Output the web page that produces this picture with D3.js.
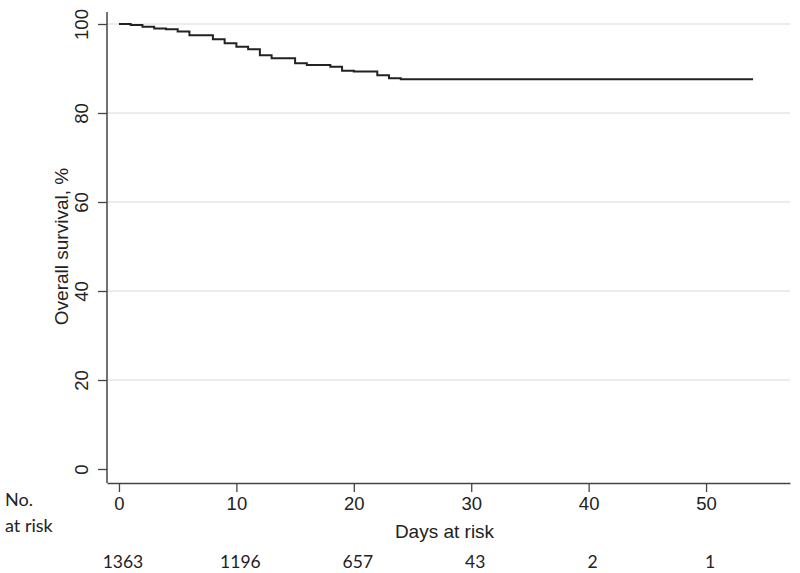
<!DOCTYPE html>
<html>
<head>
<meta charset="utf-8">
<script src="https://cdn.jsdelivr.net/npm/d3@7"></script>
<style>
  html, body { margin: 0; padding: 0; background: #fff; }
  svg { display: block; }
  text { fill: #222; }
</style>
</head>
<body>
<svg id="chart" width="800" height="573"></svg>
<script>
// Kaplan-Meier step data (day, survival %)
const stepDays =     [0,   1,     2,    3,    4,    5,    6,    8,    9,    10,   11,   12,   13,   15,   16,   18,   19,   20,   22,   23,   24,   54];
const stepSurvival = [100, 99.78, 99.4, 99.0, 98.8, 98.3, 97.5, 96.6, 95.7, 94.9, 94.3, 93.0, 92.3, 91.2, 90.8, 90.4, 89.5, 89.3, 88.5, 87.8, 87.6, 87.6];
const xTicks = [0, 10, 20, 30, 40, 50];
const yTicks = [0, 20, 40, 60, 80, 100];
const gridTicks = [20, 40, 60, 80, 100];
const riskDays = [0, 10, 20, 30, 40, 50];
const riskCounts = [1363, 1196, 657, 43, 2, 1];

const svg = d3.select("#chart");
const plotLeft = 107, plotRight = 790, plotBottom = 483, plotTop = 12;

const x = d3.scaleLinear().domain([-1.02, 57.15]).range([plotLeft, plotRight]);
const y = d3.scaleLinear().domain([0, 100]).range([469, 24]);

const tickFont = "'Liberation Sans', Arial, sans-serif";
const riskFont = "Lato, 'Open Sans', sans-serif";

// gridlines
svg.append("g").selectAll("line").data(gridTicks).join("line")
  .attr("x1", plotLeft).attr("x2", plotRight)
  .attr("y1", d => y(d)).attr("y2", d => y(d))
  .attr("stroke", "#e6e6e6").attr("stroke-width", 1.5);

// x axis
const xAxis = svg.append("g").attr("transform", `translate(0,${plotBottom})`)
  .call(d3.axisBottom(x).tickValues(xTicks).tickSize(9).tickPadding(5).tickSizeOuter(0));
xAxis.select(".domain").attr("stroke", "#444").attr("stroke-width", 1.5);
xAxis.selectAll(".tick line").attr("stroke", "#444").attr("stroke-width", 1.3);
xAxis.selectAll(".tick text").attr("font-family", tickFont).attr("font-size", 18.5).attr("fill", "#222");

// y axis
const yAxis = svg.append("g").attr("transform", `translate(${plotLeft},0)`)
  .call(d3.axisLeft(y).tickValues(yTicks).tickSize(9).tickSizeOuter(0));
yAxis.select(".domain").attr("d", `M0,${plotTop}V${plotBottom}`).attr("stroke", "#444").attr("stroke-width", 1.5);
yAxis.selectAll(".tick line").attr("stroke", "#444").attr("stroke-width", 1.3);
yAxis.selectAll(".tick text")
  .attr("font-family", tickFont).attr("font-size", 18.5).attr("fill", "#222")
  .attr("x", 0).attr("dy", 0)
  .attr("text-anchor", "middle")
  .attr("transform", "translate(-19,0) rotate(-90)");

// axis titles
svg.append("text")
  .attr("transform", `translate(68,${(y(0) + y(100)) / 2}) rotate(-90)`)
  .attr("text-anchor", "middle")
  .attr("font-family", tickFont).attr("font-size", 19)
  .text("Overall survival, %");

svg.append("text")
  .attr("x", (plotLeft + plotRight) / 2 - 4).attr("y", 538)
  .attr("text-anchor", "middle")
  .attr("font-family", tickFont).attr("font-size", 19)
  .text("Days at risk");

// survival step curve
const line = d3.line().x(d => x(d[0])).y(d => y(d[1])).curve(d3.curveStepAfter);
svg.append("path")
  .datum(stepDays.map((d, i) => [d, stepSurvival[i]]))
  .attr("d", line)
  .attr("fill", "none").attr("stroke", "#222").attr("stroke-width", 2);

// number at risk
svg.append("text").attr("x", 5).attr("y", 506)
  .attr("font-family", riskFont).attr("font-size", 18).text("No.");
svg.append("text").attr("x", 5).attr("y", 532)
  .attr("font-family", riskFont).attr("font-size", 18).text("at risk");

svg.append("g").selectAll("text").data(riskCounts).join("text")
  .attr("x", (d, i) => x(riskDays[i]) + 4)
  .attr("y", 568)
  .attr("text-anchor", "middle")
  .attr("font-family", riskFont).attr("font-size", 17.5)
  .text(d => d);
</script>
</body>
</html>
